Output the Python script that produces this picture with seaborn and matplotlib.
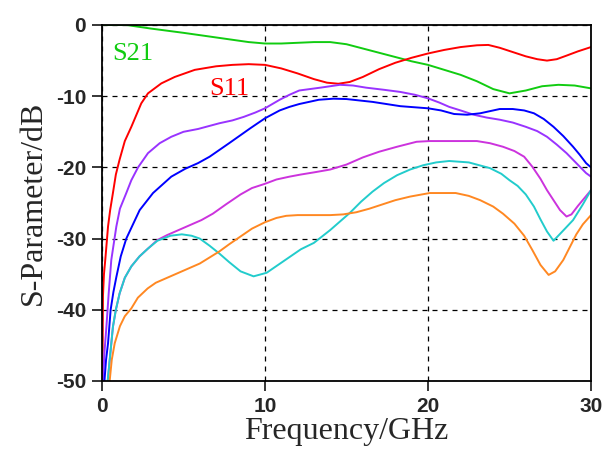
import matplotlib
matplotlib.use("Agg")
import matplotlib.pyplot as plt
from matplotlib.font_manager import FontProperties
import seaborn as sns
import pandas as pd

# Simulated S-parameters (dB) versus frequency (GHz)
s21_f = [0, 1.5, 3, 5, 7, 9, 10, 11, 12, 13, 14, 15, 16, 17, 18, 19, 20, 21, 22, 23, 24, 25, 26, 27, 28, 29, 30]
s21_db = [0, 0, -0.5, -1.1, -1.75, -2.4, -2.6, -2.6, -2.5, -2.4, -2.4, -2.7, -3.3, -3.9, -4.5, -5.1, -5.6,
          -6.3, -7.0, -7.9, -9.0, -9.6, -9.2, -8.6, -8.4, -8.5, -8.9]

s11_f = [0.02, 0.04, 0.06, 0.12, 0.2, 0.37, 0.5, 0.67, 0.85, 1.08, 1.4, 1.8, 2.41, 2.82, 3.64, 4.46, 5.69,
         7, 8, 9, 10, 11, 12, 13, 13.8, 14.5, 15.2, 16, 17, 18, 19, 20, 21, 22, 23, 23.7, 24.4, 25.2,
         26, 26.7, 27.3, 27.9, 28.5, 29.2, 30]
s11_db = [-50, -45, -38, -35, -33, -28.3, -26, -23.6, -21, -18.9, -16.3, -14.3, -11, -9.6, -8.2, -7.3, -6.3,
          -5.8, -5.6, -5.5, -5.6, -6.1, -6.8, -7.6, -8.1, -8.25, -8.0, -7.3, -6.2, -5.3, -4.6, -4.0, -3.5,
          -3.1, -2.85, -2.8, -3.2, -3.8, -4.4, -4.8, -5.0, -4.8, -4.3, -3.7, -3.1]

s31_f = [0.06, 0.15, 0.27, 0.41, 0.57, 0.88, 1.1, 1.49, 1.8, 2.21, 2.82, 3.54, 4.25, 5, 5.9, 7.2, 8, 8.7,
         9.4, 10, 10.9, 11.5, 12.1, 13.4, 14.6, 15.4, 16.2, 17.3, 18.3, 19.2, 20, 20.7, 21.3, 22, 22.8,
         23.6, 24.4, 25.2, 26, 26.7, 27.3, 27.9, 28.5, 29.1, 29.7, 30]
s31_db = [-50, -46, -42.4, -37.7, -33, -28.3, -25.8, -23.6, -21.8, -20, -18, -16.6, -15.7, -15, -14.6,
          -13.8, -13.4, -12.9, -12.3, -11.7, -10.5, -9.8, -9.2, -8.8, -8.4, -8.5, -8.8, -9.1, -9.4, -9.8,
          -10.3, -10.9, -11.5, -12.0, -12.6, -13.0, -13.3, -13.7, -14.3, -14.9, -15.7, -16.8, -18.0,
          -19.4, -20.8, -21.3]

s41_f = [0.15, 0.25, 0.37, 0.53, 0.7, 0.88, 1.15, 1.49, 1.9, 2.31, 3.13, 4.25, 5.1, 5.89, 6.6, 7.8, 9.1,
         10, 10.9, 11.5, 12.1, 13.3, 14.2, 15, 16.6, 18.3, 20, 20.8, 21.6, 22.4, 23.2, 23.8, 24.4, 25.2,
         25.9, 26.5, 27.1, 27.7, 28.3, 28.9, 29.3, 29.7, 30]
s41_db = [-50, -47, -44.7, -40, -37.5, -35.4, -32.5, -30, -28, -26, -23.6, -21.3, -20.2, -19.4, -18.5,
          -16.6, -14.5, -13.1, -12.0, -11.5, -11.1, -10.5, -10.35, -10.4, -10.8, -11.4, -11.7, -12.0,
          -12.5, -12.6, -12.4, -12.1, -11.8, -11.8, -12.0, -12.4, -13.2, -14.3, -15.6, -17.1, -18.2,
          -19.4, -20.0]

s51_f = [0.35, 0.47, 0.67, 0.85, 1.08, 1.4, 1.8, 2.3, 2.82, 3.4, 4, 4.7, 5.4, 6.1, 6.8, 7.6, 8.5, 9.2, 10,
         10.7, 11.5, 12.2, 13, 14, 15, 16, 17, 18.1, 19.3, 20.1, 21.5, 23, 23.8, 24.6, 25.3, 25.9, 26.4,
         26.9, 27.3, 27.7, 28.1, 28.5, 28.8, 29.2, 29.6, 30]
s51_db = [-50, -47.1, -42.4, -40, -37.7, -35.5, -33.9, -32.5, -31.4, -30.2, -29.5, -28.8, -28.1, -27.4,
          -26.5, -25.2, -23.8, -22.9, -22.3, -21.7, -21.3, -21.0, -20.7, -20.3, -19.6, -18.6, -17.8,
          -17.1, -16.4, -16.3, -16.3, -16.3, -16.6, -17.1, -17.7, -18.5, -19.9, -21.6, -23.2, -24.6,
          -26.0, -26.9, -26.6, -25.4, -24.3, -23.2]

s61_f = [0.35, 0.47, 0.67, 0.85, 1.08, 1.4, 1.8, 2.3, 2.82, 3.4, 4.2, 4.9, 5.5, 6, 6.6, 7.2, 7.8, 8.5, 9.3,
         10.1, 10.8, 11.5, 12.2, 13, 14, 14.6, 15.2, 15.9, 16.6, 17.3, 18.1, 18.9, 19.7, 20.5, 21.3,
         22.5, 23.8, 24.5, 25, 25.5, 26, 26.5, 26.9, 27.3, 27.7, 28.2, 28.9, 29.5, 30]
s61_db = [-50, -47.1, -42.4, -40, -37.7, -35.5, -33.9, -32.5, -31.4, -30.3, -29.6, -29.4, -29.6, -30,
          -31, -32.1, -33.3, -34.6, -35.3, -34.8, -33.7, -32.6, -31.5, -30.6, -28.8, -27.6, -26.4, -24.8,
          -23.4, -22.2, -21.1, -20.3, -19.7, -19.3, -19.1, -19.3, -20.1, -20.9, -21.8, -22.6, -23.8,
          -25.5, -27.3, -29.0, -30.3, -29.1, -27.4, -25.2, -23.2]

s71_f = [0.47, 0.6, 0.78, 1.1, 1.4, 1.8, 2.2, 2.8, 3.3, 4.4, 5, 6, 7.2, 7.8, 8.5, 9.2, 10, 10.7, 11.3, 12,
         14, 14.8, 15.6, 16.4, 17.2, 18, 18.9, 20.1, 21.7, 22.5, 23.2, 24, 24.6, 25.3, 25.9, 26.4, 26.9,
         27.4, 27.8, 28.3, 28.7, 29.1, 29.5, 30]
s71_db = [-50, -47, -44.7, -42.3, -40.9, -39.8, -38.3, -37, -36.2, -35.1, -34.5, -33.5, -31.8, -30.8,
          -29.7, -28.6, -27.7, -27.1, -26.8, -26.7, -26.7, -26.6, -26.3, -25.8, -25.2, -24.6, -24.1,
          -23.6, -23.6, -24.0, -24.6, -25.5, -26.5, -27.9, -29.6, -31.6, -33.7, -35.1, -34.6, -33.0,
          -31.2, -29.4, -28.0, -26.7]

trace_names = ["S21", "S11", "S31", "S41", "S51", "S61", "S71"]
trace_colors = ["#11cc11", "#ff0000", "#9933ff", "#0000ff", "#cc33dd", "#22cccc", "#ff8822"]

x_ticks = [0, 10, 20, 30]
x_tick_labels = ["0", "10", "20", "30"]
y_ticks = [0, -10, -20, -30, -40, -50]
y_tick_labels = ["0", "-10", "-20", "-30", "-40", "-50"]

series = [(s21_f, s21_db), (s11_f, s11_db), (s31_f, s31_db), (s41_f, s41_db),
          (s51_f, s51_db), (s61_f, s61_db), (s71_f, s71_db)]
frames = [pd.DataFrame({"freq": f, "dB": d, "trace": n}) for n, (f, d) in zip(trace_names, series)]
df = pd.concat(frames, ignore_index=True)

sns.set_style("white")
fig = plt.figure(figsize=(6.11, 4.5), dpi=100)
ax = fig.add_axes([102 / 611, 1 - 381 / 450, 489 / 611, 356 / 450])

sns.lineplot(data=df, x="freq", y="dB", hue="trace", hue_order=trace_names,
             palette=dict(zip(trace_names, trace_colors)), estimator=None, sort=False,
             legend=False, linewidth=1.4, ax=ax)

ax.set_xlim(0, 30)
ax.set_ylim(-50, 0)
ax.set_xticks(x_ticks)
ax.set_xticklabels(x_tick_labels)
ax.set_yticks(y_ticks)
ax.set_yticklabels(y_tick_labels)

tick_font = FontProperties(family="Liberation Sans", weight="bold", size=15)
for lbl in ax.get_xticklabels() + ax.get_yticklabels():
    lbl.set_fontproperties(tick_font)
ax.tick_params(axis="both", direction="out", length=7.5, width=1.1, color="black",
               pad=4, left=True, bottom=True)

ax.grid(True, color="black", linestyle=(0, (4, 4)), linewidth=0.9)
ax.set_axisbelow(True)
for sp in ax.spines.values():
    sp.set_color("black")
    sp.set_linewidth(1.3)

label_font = dict(family="Liberation Serif", size=23)
ax.set_xlabel("Frequency/GHz", va="center", **label_font)
ax.set_ylabel("S-Parameter/dB", va="center", **label_font)
ax.xaxis.set_label_coords(0.5, -0.143)
ax.yaxis.set_label_coords(-0.141, 0.5)

ax.text(0.6, -4.9, "S21", color=trace_colors[0], family="Liberation Serif", size=19, va="baseline")
ax.text(6.6, -9.8, "S11", color=trace_colors[1], family="Liberation Serif", size=19, va="baseline")

fig.savefig("out.png", dpi=100)
